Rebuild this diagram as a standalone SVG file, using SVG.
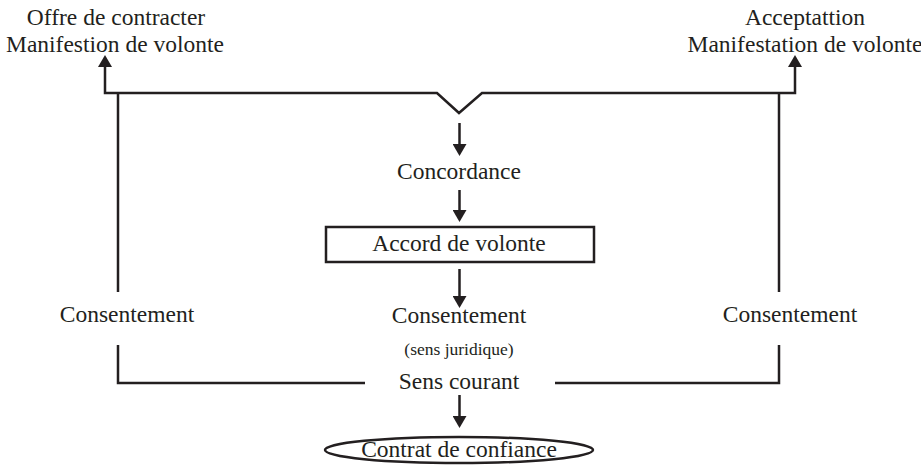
<svg xmlns="http://www.w3.org/2000/svg" width="921" height="468" viewBox="0 0 921 468">
<style>
text{font-family:"Liberation Serif","Times New Roman",serif;font-size:23.5px;fill:#231f20;text-anchor:middle}
.small{font-size:17.5px}
.ln{fill:none;stroke:#231f20;stroke-width:2.5}
.arr{marker-end:url(#ah)}
</style>
<defs>
<marker id="ah" markerUnits="userSpaceOnUse" markerWidth="12" markerHeight="14" refX="0" refY="7" orient="auto-start-reverse" viewBox="0 0 12 14">
<path d="M0,0 L12,7 L0,14 Z" fill="#231f20"/>
</marker>
</defs>
<g id="connectors">
<path class="ln" d="M105,67 V93 H437 L459,113 L482,93 H795 V67" marker-start="url(#ah)" marker-end="url(#ah)"/>
<path class="ln" d="M118,93 V292"/>
<path class="ln" d="M118,345 V383 H365"/>
<path class="ln" d="M779,93 V292"/>
<path class="ln" d="M779,345 V383 H555"/>
<path class="ln arr" d="M459.5,123 V144"/>
<path class="ln arr" d="M459.5,190 V210"/>
<path class="ln arr" d="M459.5,269 V296"/>
<path class="ln arr" d="M459.5,395 V416"/>
</g>
<g id="offre"><text x="116" y="25">Offre de contracter</text><text x="115" y="52">Manifestion de volonte</text></g>
<g id="acceptation"><text x="805" y="25">Acceptattion</text><text x="805" y="52">Manifestation de volonte</text></g>
<g id="concordance"><text x="459" y="179">Concordance</text></g>
<g id="accord"><rect class="ln" x="326" y="227" width="268" height="35"/><text x="459" y="251">Accord de volonte</text></g>
<g id="consentement-juridique"><text x="459" y="323">Consentement</text><text class="small" x="459" y="355">(sens juridique)</text></g>
<g id="consentement-gauche"><text x="127" y="322">Consentement</text></g>
<g id="consentement-droite"><text x="790" y="322">Consentement</text></g>
<g id="sens-courant"><text x="459" y="389">Sens courant</text></g>
<g id="contrat"><ellipse class="ln" cx="459" cy="450" rx="134" ry="13"/><text x="459" y="457">Contrat de confiance</text></g>
</svg>
